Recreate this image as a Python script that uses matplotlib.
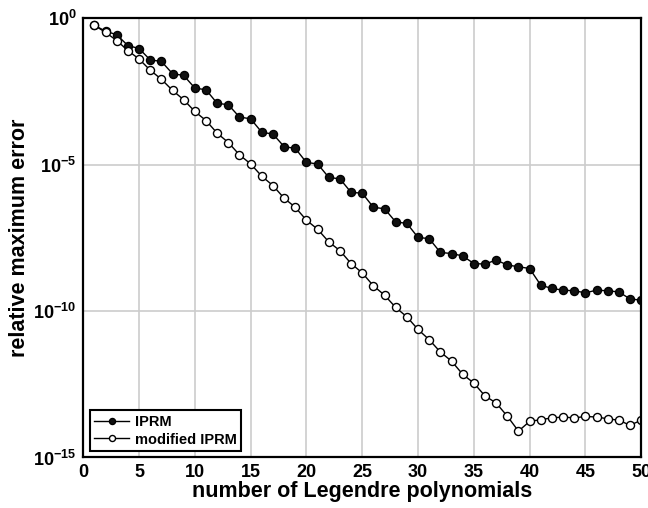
import matplotlib
matplotlib.use('Agg')
import matplotlib.pyplot as plt
import numpy as np

plt.rcParams['font.family'] = ['Liberation Sans', 'DejaVu Sans']
plt.rcParams['font.weight'] = 'bold'
plt.rcParams['mathtext.fontset'] = 'custom'
plt.rcParams['mathtext.rm'] = 'Liberation Sans:bold'
plt.rcParams['mathtext.it'] = 'Liberation Sans:bold'
plt.rcParams['mathtext.bf'] = 'Liberation Sans:bold'
plt.rcParams['mathtext.default'] = 'rm'

n = np.arange(1, 51)

# log10 of the relative maximum error
iprm_log = [-0.25, -0.45, -0.57, -0.94, -1.04, -1.43, -1.48, -1.90, -1.96, -2.39,
            -2.45, -2.91, -2.96, -3.38, -3.44, -3.90, -3.96, -4.39, -4.45, -4.93,
            -4.98, -5.44, -5.49, -5.95, -5.98, -6.46, -6.51, -6.96, -7.01, -7.49,
            -7.53, -8.00, -8.04, -8.12, -8.38, -8.40, -8.26, -8.43, -8.49, -8.55,
            -9.12, -9.23, -9.29, -9.31, -9.38, -9.29, -9.31, -9.35, -9.59, -9.63]
mod_log = [-0.25, -0.49, -0.77, -1.11, -1.40, -1.78, -2.09, -2.47, -2.79, -3.19,
           -3.50, -3.93, -4.25, -4.67, -4.98, -5.40, -5.72, -6.15, -6.46, -6.90,
           -7.21, -7.64, -7.94, -8.38, -8.70, -9.14, -9.46, -9.88, -10.20, -10.63,
           -10.98, -11.40, -11.71, -12.16, -12.46, -12.90, -13.14, -13.59, -14.10, -13.77,
           -13.71, -13.65, -13.62, -13.65, -13.60, -13.62, -13.68, -13.73, -13.90, -13.73]

iprm = 10.0 ** np.array(iprm_log)
mod = 10.0 ** np.array(mod_log)

fig = plt.figure(figsize=(6.48, 5.08), dpi=100)
ax = fig.add_axes([0.1285, 0.0995, 0.861, 0.865])

ax.semilogy(n, iprm, '-o', color='black', lw=1, ms=5.8, mfc='#111111', mec='black',
            label='IPRM')
ax.semilogy(n, mod, '-o', color='black', lw=1, ms=5.8, mfc='white', mec='black',
            mew=1, label='modified IPRM')

ax.set_xlim(0, 50)
ax.set_ylim(1e-15, 1e0)
ax.set_xticks(np.arange(0, 51, 5))
ax.set_yticks([1e0, 1e-5, 1e-10, 1e-15])
ax.set_yticklabels([r'$10^{0}$', r'$10^{-5}$', r'$10^{-10}$', r'$10^{-15}$'])
ax.yaxis.set_minor_locator(matplotlib.ticker.NullLocator())
ax.tick_params(axis='both', length=0, labelsize=13)
ax.tick_params(axis='x', pad=5)
ax.tick_params(axis='y', pad=5)
ax.grid(True, color='#cccccc', lw=1.2)
ax.set_axisbelow(True)
for s in ax.spines.values():
    s.set_linewidth(1.6)

ax.set_xlabel('number of Legendre polynomials', fontsize=15.5, fontweight='bold', labelpad=0)
ax.set_ylabel('relative maximum error', fontsize=15.5, fontweight='bold', labelpad=2)

leg = ax.legend(loc='lower left', fontsize=10.5, markerscale=0.75, handlelength=2.4,
                fancybox=False, framealpha=1, edgecolor='black',
                borderaxespad=0.45, borderpad=0.3, labelspacing=0.25, handletextpad=0.4)
leg.get_frame().set_linewidth(1.5)

fig.savefig('out.png', dpi=100)
